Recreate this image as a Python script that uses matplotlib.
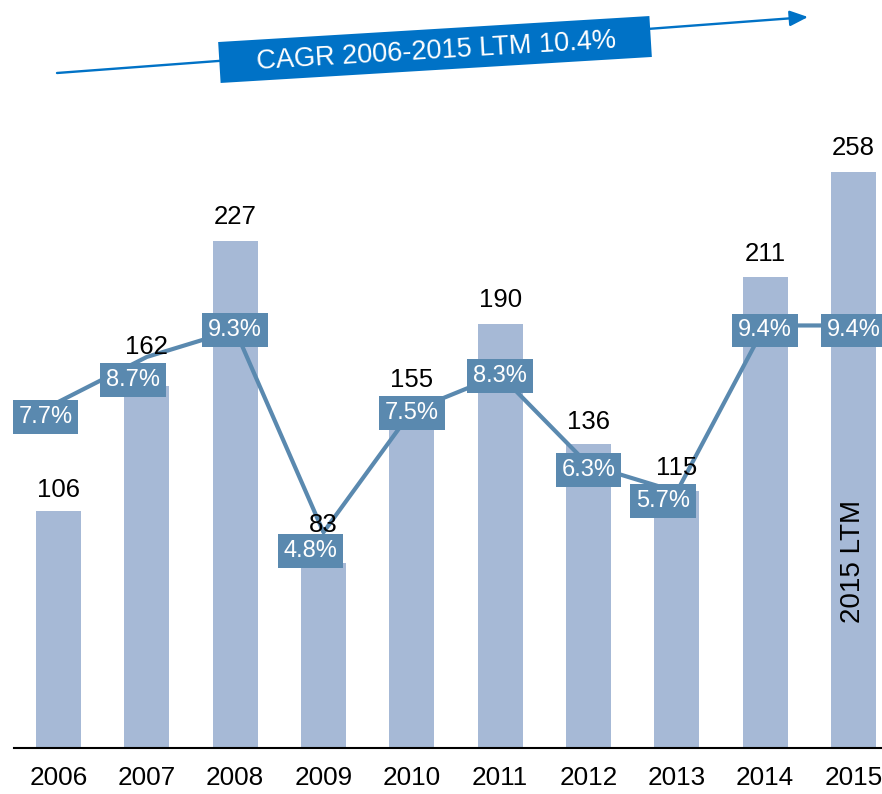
import numpy as np
import matplotlib
matplotlib.use("Agg")
import matplotlib.pyplot as plt
from matplotlib.patches import Polygon, FancyArrowPatch, ArrowStyle

plt.rcParams['font.family'] = ['Liberation Sans', 'DejaVu Sans']

# ---- data ----
years = ['2006', '2007', '2008', '2009', '2010', '2011', '2012', '2013', '2014', '2015']
values = [106, 162, 227, 83, 155, 190, 136, 115, 211, 258]
growth = [7.7, 8.7, 9.3, 4.8, 7.5, 8.3, 6.3, 5.7, 9.4, 9.4]
growth_labels = [f'{g:.1f}%' for g in growth]
cagr_text = 'CAGR 2006-2015 LTM 10.4%'
ltm_text = '2015 LTM'

# ---- style ----
bar_color = '#A6B9D6'
line_color = '#5A89AF'
cagr_color = '#0072C6'
W, H = 882, 794
PX = 0.72  # points per pixel at dpi 100

value_label_offsets_px = [23, 41, 26, 40, 24, 26, 24, 25, 25, 26]
growth_label_offsets_px = [(-13, 15), (-14, 23), (0, 0), (-13, 19), (0, 2),
                           (0, 1), (0, 5), (-14, 9), (0, 5), (0, 5)]

fig = plt.figure(figsize=(W / 100, H / 100), dpi=100)
unit = 88.33
left_px = 58.5 - unit / 2
ax = fig.add_axes([left_px / W, 46 / H, 10 * unit / W, 648 / H])
x = np.arange(len(years))
ax.bar(x, values, width=0.51, color=bar_color, zorder=1)
ax.set_xlim(-0.5, 9.5)
ax.set_ylim(0, 648 / 2.2337)
for s in ['top', 'left', 'right']:
    ax.spines[s].set_visible(False)
ax.spines['bottom'].set_color('black')
ax.spines['bottom'].set_linewidth(1.5)
ax.set_yticks([])
ax.set_xticks(x, years, fontsize=18.8)
ax.tick_params(axis='x', length=0, pad=13)
ax.text(9, 83.7, ltm_text, rotation=90, ha='center', va='center', fontsize=20, color='black')

ax2 = ax.twinx()
ax2.set_ylim(0, 648 / 44.95)
ax2.set_yticks([])
for s in ax2.spines.values():
    s.set_visible(False)
ax2.plot(x, growth, color=line_color, lw=3, zorder=2, solid_capstyle='butt')
for xi, g, lbl, (dx, dy) in zip(x, growth, growth_labels, growth_label_offsets_px):
    ax2.annotate(lbl, (xi, g), xytext=(dx * PX, -dy * PX), textcoords='offset points',
                 ha='center', va='center', color='white', fontsize=17,
                 bbox=dict(boxstyle='square,pad=0.25', fc=line_color, ec='none'), zorder=3)
for xi, v, off in zip(x, values, value_label_offsets_px):
    ax2.annotate(str(v), (xi, v), xycoords=ax.transData, xytext=(0, (off - 9) * PX),
                 textcoords='offset points', ha='center', va='baseline',
                 fontsize=18.5, color='black', zorder=4)

# ---- CAGR arrow overlay ----
ov = fig.add_axes([0, 0, 1, 1])
ov.set_xlim(0, W)
ov.set_ylim(H, 0)
ov.axis('off')
ov.set_zorder(5)
arrow = FancyArrowPatch((57, 73), (808, 17),
                        arrowstyle=ArrowStyle('-|>', head_length=11, head_width=4.7),
                        mutation_scale=1, lw=1.7, color=cagr_color, shrinkA=0, shrinkB=0)
ov.add_patch(arrow)
ang = np.deg2rad(3.45)
c = np.array([435.0, 49.5])
u = np.array([np.cos(ang), -np.sin(ang)])
v = np.array([np.sin(ang), np.cos(ang)])
w, h = 432, 41
corners = [c - u * w / 2 - v * h / 2, c + u * w / 2 - v * h / 2,
           c + u * w / 2 + v * h / 2, c - u * w / 2 + v * h / 2]
ov.add_patch(Polygon(corners, closed=True, fc=cagr_color, ec='none', zorder=3))
ov.text(436, 51, cagr_text, rotation=3.4, rotation_mode='anchor', ha='center', va='center',
        color='white', fontsize=19.5, zorder=4)

fig.savefig('out.png', dpi=100)
